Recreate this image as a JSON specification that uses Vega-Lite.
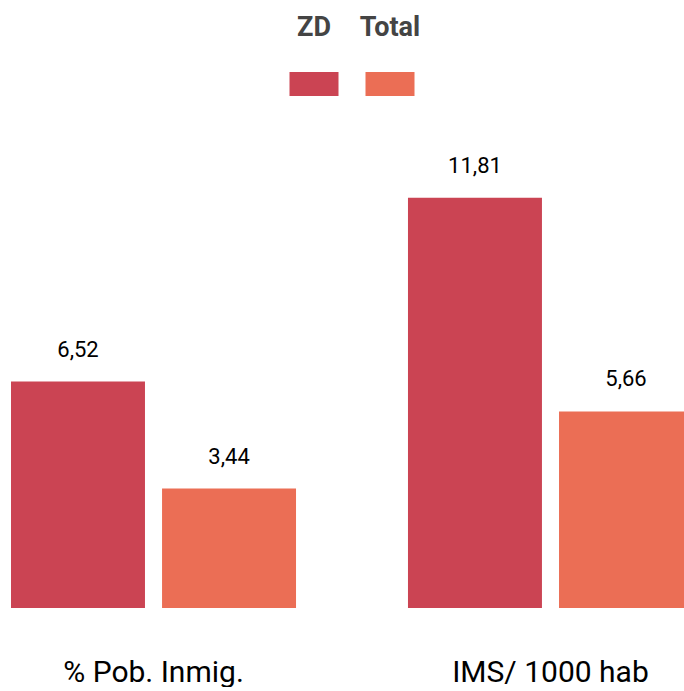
{
  "$schema": "https://vega.github.io/schema/vega-lite/v6.json",
  "padding": 0,
  "spacing": 0,
  "center": true,
  "config": {
    "view": {"stroke": null},
    "font": "Roboto, sans-serif",
    "locale": {"number": {"decimal": ",", "thousands": ".", "grouping": [3], "currency": ["", " €"]}}
  },
  "datasets": {
    "bars": [
      {"grupo": "% Pob. Inmig.", "serie": "ZD", "valor": 6.52},
      {"grupo": "% Pob. Inmig.", "serie": "Total", "valor": 3.44},
      {"grupo": "IMS/ 1000 hab", "serie": "ZD", "valor": 11.81},
      {"grupo": "IMS/ 1000 hab", "serie": "Total", "valor": 5.66}
    ],
    "series": [
      {"serie": "ZD"},
      {"serie": "Total"}
    ]
  },
  "vconcat": [
    {
      "width": 152,
      "height": 112,
      "data": {"name": "series"},
      "layer": [
        {
          "mark": {"type": "text", "fontSize": 27, "fontWeight": "bold", "color": "#444444", "baseline": "middle"},
          "encoding": {
            "x": {"field": "serie", "type": "nominal", "sort": ["ZD", "Total"], "axis": null, "scale": {"paddingInner": 0, "paddingOuter": 0}},
            "y": {"datum": "label", "type": "nominal", "axis": null, "scale": {"domain": ["label", "swatch"], "paddingInner": 0, "paddingOuter": 0}},
            "text": {"field": "serie"}
          }
        },
        {
          "mark": {"type": "bar", "width": 49, "height": 24},
          "encoding": {
            "x": {"field": "serie", "type": "nominal", "sort": ["ZD", "Total"], "axis": null},
            "y": {"datum": "swatch", "type": "nominal", "axis": null},
            "color": {"field": "serie", "type": "nominal", "scale": {"domain": ["ZD", "Total"], "range": ["#CB4453", "#EB6E55"]}, "legend": null}
          }
        }
      ]
    },
    {
      "width": 704,
      "height": 496,
      "data": {"name": "bars"},
      "encoding": {
        "x": {
          "field": "grupo", "type": "nominal", "sort": ["% Pob. Inmig.", "IMS/ 1000 hab"],
          "scale": {"paddingInner": 0.282, "paddingOuter": 0.0277},
          "axis": {"title": null, "domain": false, "ticks": false, "labelAngle": 0, "labelFontSize": 30, "labelColor": "#000000", "labelPadding": 49, "labelLimit": 400}
        },
        "xOffset": {"field": "serie", "type": "nominal", "sort": ["ZD", "Total"], "scale": {"paddingInner": 0.113, "paddingOuter": 0}},
        "y": {"field": "valor", "type": "quantitative", "scale": {"domain": [0, 14.28], "nice": false, "zero": true}, "axis": null}
      },
      "layer": [
        {
          "mark": {"type": "bar"},
          "encoding": {
            "color": {"field": "serie", "type": "nominal", "scale": {"domain": ["ZD", "Total"], "range": ["#CB4453", "#EB6E55"]}, "legend": null}
          }
        },
        {
          "mark": {"type": "text", "fontSize": 22, "color": "#000000", "baseline": "alphabetic", "dy": -25},
          "encoding": {
            "text": {"field": "valor", "type": "quantitative", "format": ".2f"}
          }
        }
      ]
    }
  ]
}
